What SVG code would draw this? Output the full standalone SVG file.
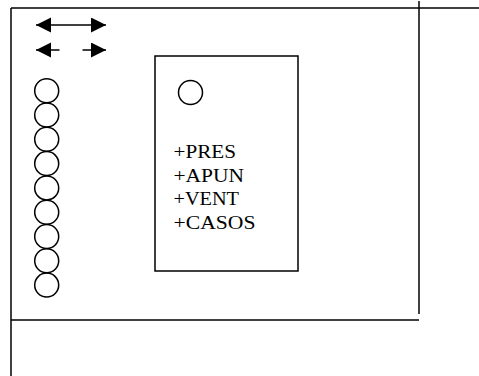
<svg xmlns="http://www.w3.org/2000/svg" width="479" height="376" viewBox="0 0 479 376">
<style>
.ln{stroke:#000;stroke-width:1.5;fill:none}
.c{stroke:#000;stroke-width:1.5;fill:none}
.t{font-family:"Liberation Serif","Times New Roman",serif;font-size:18px;fill:#000}
</style>
<defs>
<marker id="ah" markerUnits="userSpaceOnUse" markerWidth="16" markerHeight="16" refX="15" refY="7.5" orient="auto-start-reverse" viewBox="0 0 16 16">
<path d="M0,0 L15,7.5 L0,15 Z" fill="#000"/>
</marker>
</defs>
<rect width="479" height="376" fill="#fff"/>
<g id="frame">
<line class="ln" x1="11" y1="8" x2="479" y2="8"/>
<line class="ln" x1="11" y1="8" x2="11" y2="376"/>
<line class="ln" x1="419" y1="1" x2="419" y2="314"/>
<line class="ln" x1="11" y1="320" x2="419" y2="320"/>
</g>
<g id="connectors">
<line class="ln" x1="36" y1="25" x2="106" y2="25" marker-start="url(#ah)" marker-end="url(#ah)"/>
<line class="ln" x1="59.5" y1="50" x2="36" y2="50" marker-end="url(#ah)"/>
<line class="ln" x1="82.5" y1="50" x2="106" y2="50" marker-end="url(#ah)"/>
</g>
<g id="circles">
<circle class="c" cx="46.7" cy="90.7" r="12"/>
<circle class="c" cx="46.7" cy="115" r="12"/>
<circle class="c" cx="46.7" cy="139.3" r="12"/>
<circle class="c" cx="46.7" cy="163.6" r="12"/>
<circle class="c" cx="46.7" cy="187.9" r="12"/>
<circle class="c" cx="46.7" cy="212.2" r="12"/>
<circle class="c" cx="46.7" cy="236.5" r="12"/>
<circle class="c" cx="46.7" cy="260.8" r="12"/>
<circle class="c" cx="46.7" cy="285.1" r="12"/>
</g>
<g id="box">
<rect class="ln" x="155" y="56" width="143" height="215"/>
<circle class="c" cx="190.5" cy="92.5" r="12"/>
<text class="t" x="173.5" y="158" textLength="62.5" lengthAdjust="spacingAndGlyphs">+PRES</text>
<text class="t" x="173.5" y="181.5" textLength="70.5" lengthAdjust="spacingAndGlyphs">+APUN</text>
<text class="t" x="173.5" y="205" textLength="65.5" lengthAdjust="spacingAndGlyphs">+VENT</text>
<text class="t" x="173.5" y="228.5" textLength="82" lengthAdjust="spacingAndGlyphs">+CASOS</text>
</g>
</svg>
